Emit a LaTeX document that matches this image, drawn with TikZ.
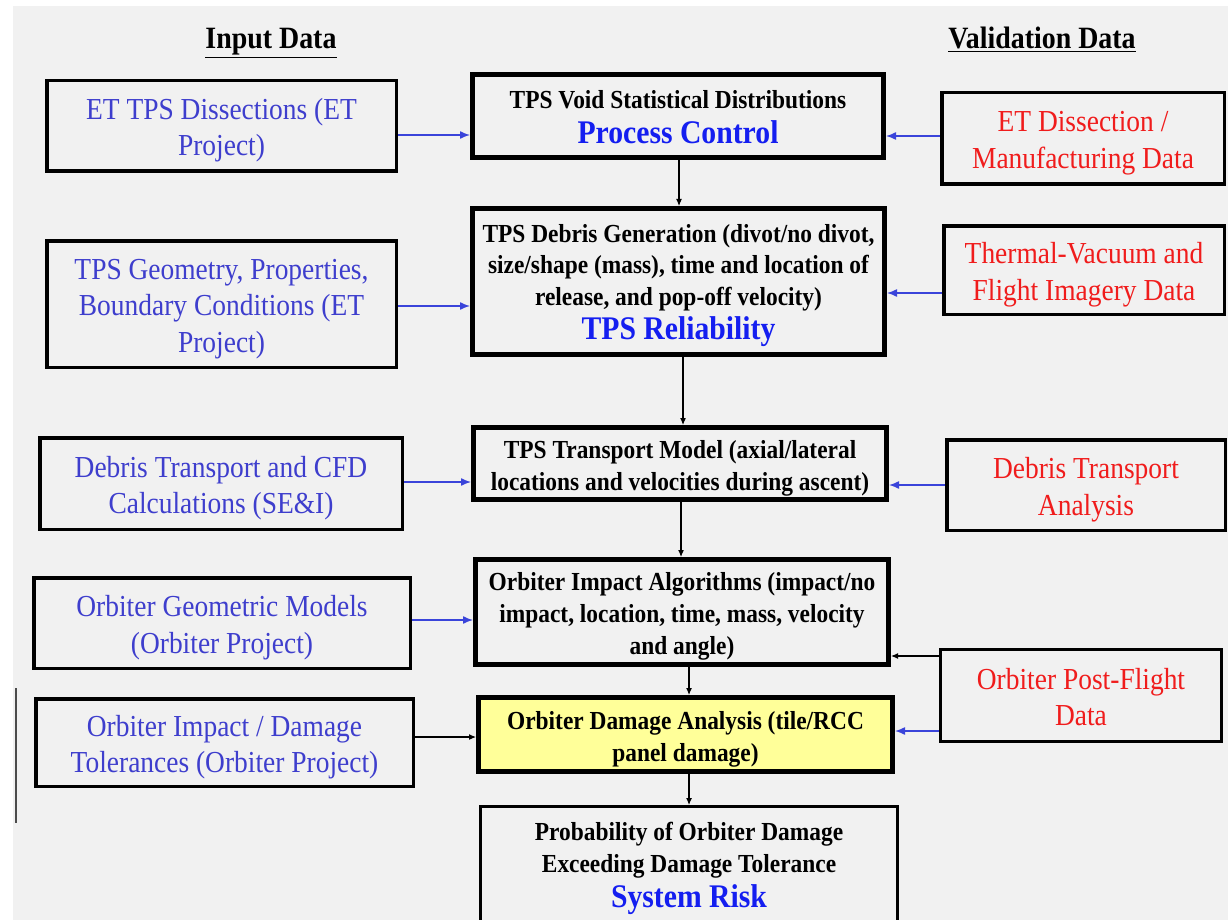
\documentclass[tikz,border=0pt]{standalone}
\usepackage{fontspec}
\setmainfont{Liberation Serif}[FakeStretch=0.9]
\usetikzlibrary{arrows.meta}

\definecolor{bgGray}{RGB}{241,241,241}
\definecolor{inBlue}{RGB}{62,62,205}
\definecolor{keyBlue}{RGB}{20,30,240}
\definecolor{valRed}{RGB}{240,28,28}
\definecolor{arrBlue}{RGB}{58,68,218}
\definecolor{dmgYellow}{RGB}{255,255,153}

\newcommand\stagekey[1]{{\fontsize{33}{38}\selectfont\color{keyBlue}#1}}
% fixed space above the first baseline and below the last one,
% so that every box places its lines the same way
\newcommand\datatext[1]{\rule{0pt}{0pt}\\[-6pt]#1\rule[-7pt]{0pt}{7pt}}
\newcommand\stagetext[1]{\rule{0pt}{0pt}\\[-5pt]#1\rule[-6pt]{0pt}{6pt}}

\tikzset{
  inbox/.style={draw=black, line width=3.5pt, fill=bgGray, align=center,
    inner sep=0pt, text=inBlue, font=\fontsize{30.5}{36.5}\selectfont},
  valbox/.style={inbox, text=valRed},
  stagebox/.style={draw=black, line width=5pt, fill=bgGray, align=center,
    inner sep=0pt, text=black, font=\fontsize{26}{32}\selectfont\bfseries},
  feed/.style={draw=arrBlue, line width=1.4pt, -{Latex[length=10pt,width=8pt]}},
  flow/.style={draw=black, line width=1.1pt, -{Latex[length=7pt,width=6pt]}},
  hdr/.style={font=\fontsize{31}{36}\selectfont\bfseries, inner sep=0pt}
}

\begin{document}
\begin{tikzpicture}[x=1pt,y=-1pt]
\useasboundingbox (0,0) rectangle (1228,920);
\clip (0,0) rectangle (1228,920);
\fill[white] (0,0) rectangle (1228,920);
\fill[bgGray] (13,6) rectangle (1228,920);

% column headings
\node[hdr, anchor=base] (inHead) at (271,49) {\underline{Input Data}};
\node[hdr, anchor=base] (valHead) at (1042,49) {\underline{Validation Data}};

% input data (left column)
\node[inbox, minimum width=349.5, minimum height=90.5] (L1) at (221.5,126)
  {\datatext{ET TPS Dissections (ET\\Project)}};
\node[inbox, minimum width=349.5, minimum height=126.5] (L2) at (221.5,304)
  {\datatext{TPS Geometry, Properties,\\Boundary Conditions (ET\\Project)}};
\node[inbox, minimum width=362.5, minimum height=91.5] (L3) at (221,483.5)
  {\datatext{Debris Transport and CFD\\Calculations (SE\&I)}};
\node[inbox, minimum width=376.5, minimum height=90.5] (L4) at (222,623)
  {\datatext{Orbiter Geometric Models\\(Orbiter Project)}};
\node[inbox, minimum width=377.5, minimum height=87.5] (L5) at (224.5,742.5)
  {\datatext{Orbiter Impact / Damage\\Tolerances (Orbiter Project)}};

% analysis chain (centre column)
\node[stagebox, minimum width=411, minimum height=83] (C1) at (678,116)
  {\stagetext{TPS Void Statistical Distributions\\[3pt]\stagekey{Process Control}}};
\node[stagebox, font=\fontsize{26}{31.5}\selectfont\bfseries,
  minimum width=412, minimum height=146] (C2) at (678.5,281.5)
  {\stagetext{TPS Debris Generation (divot/no divot,\\size/shape (mass), time and location of\\release, and pop-off velocity)\\[3pt]\stagekey{TPS Reliability}}};
\node[stagebox, minimum width=413, minimum height=72] (C3) at (680,463.5)
  {\stagetext{TPS Transport Model (axial/lateral\\locations and velocities during ascent)}};
\node[stagebox, minimum width=413, minimum height=105] (C4) at (682,612)
  {\stagetext{Orbiter Impact Algorithms (impact/no\\impact, location, time, mass, velocity\\and angle)}};
\node[stagebox, fill=dmgYellow, minimum width=414, minimum height=74] (C5) at (685.5,734.5)
  {\stagetext{Orbiter Damage Analysis (tile/RCC\\panel damage)}};
\node[stagebox, line width=3pt, minimum width=417, minimum height=115] (C6) at (689,864)
  {\stagetext{Probability of Orbiter Damage\\Exceeding Damage Tolerance\\[3pt]\stagekey{System Risk}}};

% validation data (right column)
\node[valbox, minimum width=282.5, minimum height=91.5] (R1) at (1083,138.5)
  {\datatext{ET Dissection /\\Manufacturing Data}};
\node[valbox, minimum width=280.5, minimum height=88.5] (R2) at (1084,270)
  {\datatext{Thermal-Vacuum and\\Flight Imagery Data}};
\node[valbox, minimum width=278.5, minimum height=90.5] (R3) at (1086,485)
  {\datatext{Debris Transport\\Analysis}};
\node[valbox, line width=3pt, minimum width=281, minimum height=92] (R4) at (1081,695.5)
  {\datatext{Orbiter Post-Flight\\Data}};

% inputs feeding the chain
\draw[feed] (L1.east |- 0,135) -- (C1.west |- 0,135);
\draw[feed] (L2.east |- 0,306) -- (C2.west |- 0,306);
\draw[feed] (L3.east |- 0,482) -- (C3.west |- 0,482);
\draw[feed] (L4.east |- 0,620) -- (C4.west |- 0,620);
\draw[flow] (L5.east |- 0,737) -- (C5.west |- 0,737);

% validation feeding the chain
\draw[feed] (R1.west |- 0,136) -- (C1.east |- 0,136);
\draw[feed] (R2.west |- 0,293) -- (C2.east |- 0,293);
\draw[feed] (R3.west |- 0,485) -- (C3.east |- 0,485);
\draw[flow] (R4.west |- 0,656) -- (C4.east |- 0,656);
\draw[feed] (R4.west |- 0,731) -- (C5.east |- 0,731);

% flow down the chain
\draw[flow] (C1.south -| 679,0) -- (C2.north -| 679,0);
\draw[flow] (C2.south -| 683,0) -- (C3.north -| 683,0);
\draw[flow] (C3.south -| 681,0) -- (C4.north -| 681,0);
\draw[flow] (C4.south -| 689,0) -- (C5.north -| 689,0);
\draw[flow] (C5.south -| 689,0) -- (C6.north -| 689,0);

% stray rule at the left edge
\draw[black!70, line width=1.5pt] (16,688) -- (16,823);
\end{tikzpicture}
\end{document}
